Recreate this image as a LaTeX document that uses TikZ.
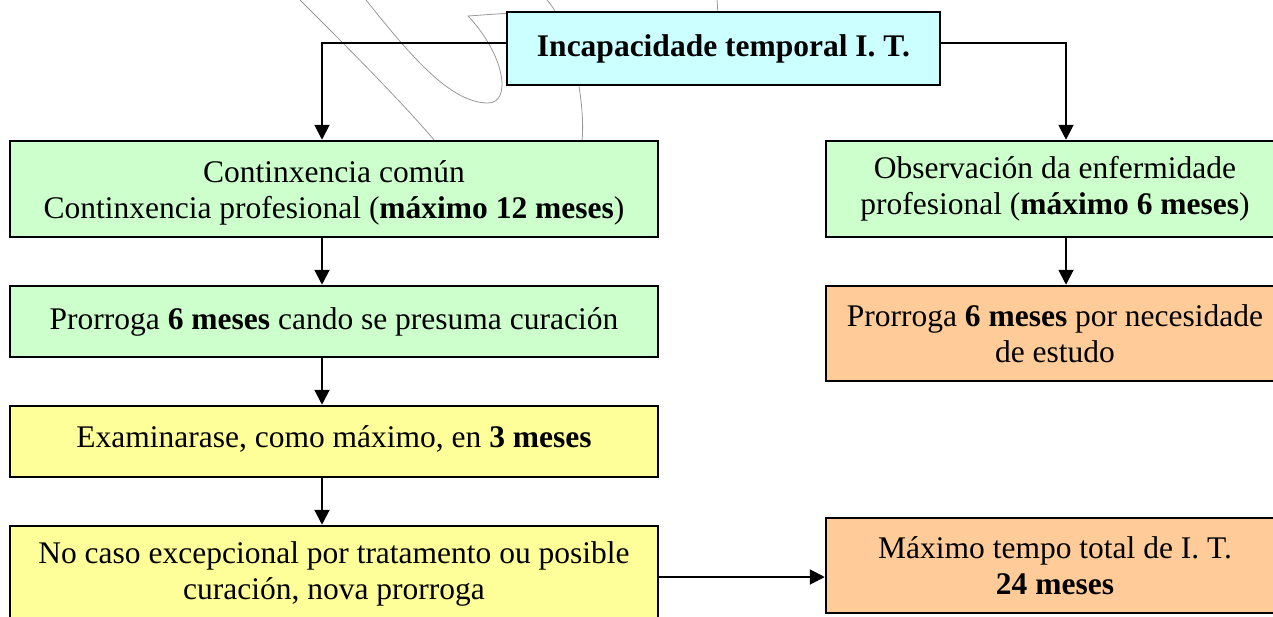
\documentclass[tikz,border=0pt]{standalone}
\usepackage{fontspec}
\setmainfont{Liberation Serif}
\usetikzlibrary{arrows.meta}
\definecolor{cyanbox}{HTML}{CCFFFF}
\definecolor{greenbox}{HTML}{CCFFCC}
\definecolor{yellowbox}{HTML}{FFFF99}
\definecolor{orangebox}{HTML}{FFCC99}
\begin{document}
\begin{tikzpicture}[x=1pt,y=-1pt,
  box/.style={draw=black, line width=2.5pt, align=center, inner sep=0pt,
    font=\fontsize{31.5}{36}\selectfont},
  txt/.style={align=center, inner sep=0pt, font=\fontsize{31.5}{36}\selectfont},
  arr/.style={line width=2pt, -{Triangle[width=15pt,length=15pt]}},
  stray/.style={draw=gray!80, line width=0.8pt}]
\useasboundingbox (0,0) rectangle (1273,616);
\clip (0,0) rectangle (1273,616);
% stray freehand strokes
\draw[stray] (300,0) .. controls (350,50) and (400,100) .. (435,141);
\draw[stray] (366,0) .. controls (410,55) and (450,103) .. (488,103)
  .. controls (512,103) and (505,55) .. (468,16) -- (525,12);
\draw[stray] (547,0) .. controls (570,25) and (586,100) .. (582,141);
\draw[stray] (717,0) -- (718,14);
% boxes
\node[box, fill=cyanbox, minimum width=433pt, minimum height=73pt,
  font={\fontsize{31.5}{36}\selectfont\bfseries}] (top) at (723.5,48.5) {Incapacidade temporal I. T.};
\node[box, fill=greenbox, minimum width=648pt, minimum height=96pt] (g1) at (334,189) {};
\node[txt] (g1t) at ([yshift=-4pt]g1.center)
  {Continxencia común\\Continxencia profesional (\textbf{máximo 12 meses})};
\node[box, fill=greenbox, minimum width=648pt, minimum height=71pt] (g2) at (334,321.5)
  {Prorroga \textbf{6 meses} cando se presuma curación};
\node[box, fill=yellowbox, minimum width=648pt, minimum height=71pt] (y1) at (334,441.5) {};
\node[txt] (y1t) at ([yshift=3pt]y1.center)
  {Examinarase, como máximo, en \textbf{3 meses}};
\node[box, fill=yellowbox, minimum width=648pt, minimum height=96pt] (y2) at (334,574)
  {No caso excepcional por tratamento ou posible\\curación, nova prorroga};
\node[box, fill=greenbox, minimum width=458pt, minimum height=96pt] (rg) at (1055,189)
  {Observación da enfermidade\\profesional (\textbf{máximo 6 meses})};
\node[box, fill=orangebox, minimum width=458pt, minimum height=95pt] (o1) at (1055,333.5)
  {Prorroga \textbf{6 meses} por necesidade\\de estudo};
\node[box, fill=orangebox, minimum width=458pt, minimum height=95pt] (o2) at (1055,565.5)
  {Máximo tempo total de I. T.\\\textbf{24 meses}};
% connectors
\draw[arr] ([yshift=-32pt]top.north west) -| ([xshift=-12pt]g1.north);
\draw[arr] ([yshift=-32pt]top.north east) -| ([xshift=11pt]rg.north);
\draw[arr] ([xshift=-12pt]g1.south) -- ([xshift=-12pt]g2.north);
\draw[arr] ([xshift=-12pt]g2.south) -- ([xshift=-12pt]y1.north);
\draw[arr] ([xshift=-12pt]y1.south) -- ([xshift=-12pt]y2.north);
\draw[arr] ([xshift=11pt]rg.south) -- ([xshift=11pt]o1.north);
\draw[arr] ([yshift=-3pt]y2.east) -- ([yshift=-3pt]y2.east -| o2.west);
\end{tikzpicture}
\end{document}
